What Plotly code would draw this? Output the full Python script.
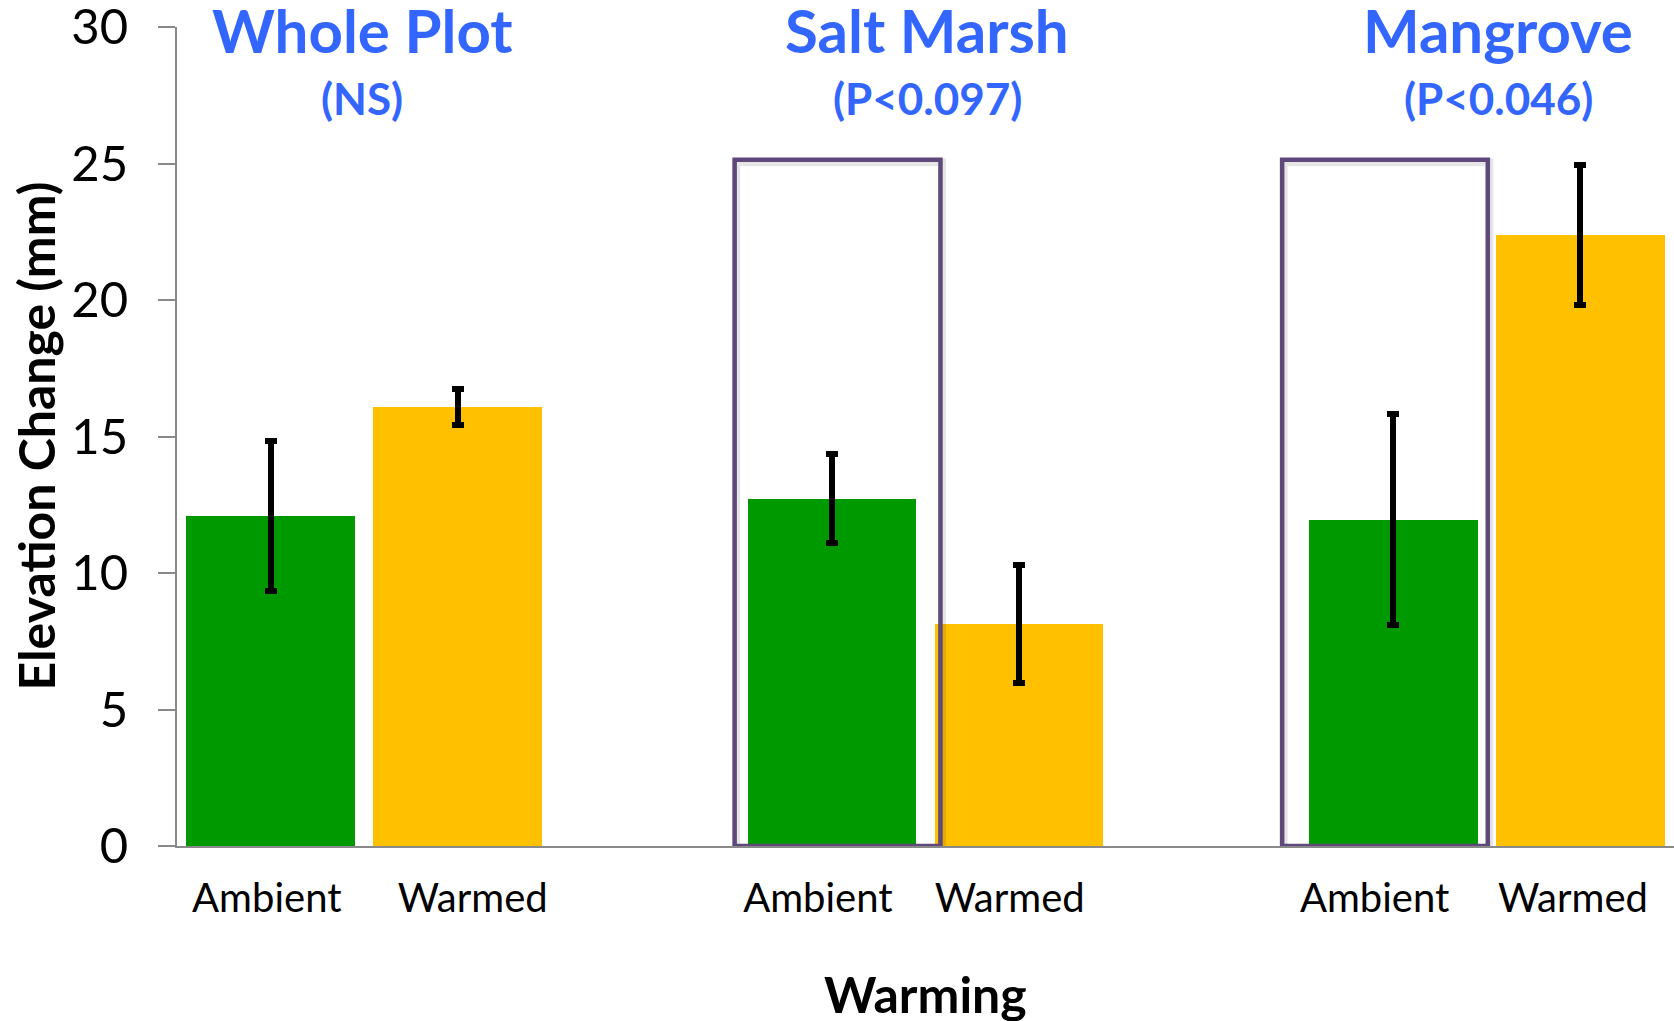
import plotly.graph_objects as go

# Elevation change by plot zone and warming treatment
groups = ["Whole Plot", "Salt Marsh", "Mangrove"]
p_labels = ["(NS)", "(P<0.097)", "(P<0.046)"]
treatments = ["Ambient", "Warmed"]

ambient_mean = [12.08, 12.73, 11.96]
ambient_se = [2.75, 1.62, 3.87]
warmed_mean = [16.09, 8.13, 22.39]
warmed_se = [0.65, 2.17, 2.58]

y_ticks = [0, 5, 10, 15, 20, 25, 30]

# highlighted groups (outlined ambient bars) and the box extents around each bar
boxed_groups = ["Salt Marsh", "Mangrove"]
box_extents = [(-0.52, 0.58), (-0.594, 0.505)]
box_top = 25.15

GREEN = "#009900"
GOLD = "#FFC000"
BLUE = "#3366FF"
PURPLE = "#5F497A"
AXIS_GREY = "#898989"
FONT = "Lato"

# each group takes three slots: ambient, warmed, empty spacer
SLOT = 3
amb_x = [i * SLOT for i in range(len(groups))]
warm_x = [i * SLOT + 1 for i in range(len(groups))]

# category labels sit slightly off the bar centres (text boxes in the original layout)
label_x = []
label_text = []
label_nudge = [(-0.02, 0.08), (-0.075, -0.05), (-0.10, -0.04)]
for a, w, (na, nw) in zip(amb_x, warm_x, label_nudge):
    label_x += [a + na, w + nw]
    label_text += treatments

err_style = dict(type="data", color="black", thickness=6, width=6)

fig = go.Figure()
fig.add_trace(go.Bar(
    x=amb_x, y=ambient_mean, width=0.9, marker=dict(color=GREEN, line=dict(width=0)),
    error_y=dict(array=ambient_se, **err_style), name="Ambient", showlegend=False,
))
fig.add_trace(go.Bar(
    x=warm_x, y=warmed_mean, width=0.9, marker=dict(color=GOLD, line=dict(width=0)),
    error_y=dict(array=warmed_se, **err_style), name="Warmed", showlegend=False,
))

# outline boxes around the ambient bars, with a faint shadow underneath
for g, (lo, hi) in zip(boxed_groups, box_extents):
    cx = amb_x[groups.index(g)]
    fig.add_shape(type="rect", xref="x", yref="y",
                  x0=cx + lo + 0.008, x1=cx + hi + 0.008, y0=-0.1, y1=box_top - 0.1,
                  line=dict(color="rgba(0,0,0,0.10)", width=8), layer="above")
    fig.add_shape(type="rect", xref="x", yref="y",
                  x0=cx + lo, x1=cx + hi, y0=0, y1=box_top,
                  line=dict(color=PURPLE, width=4.5), layer="above")

# group headings and significance labels
title_x = [0.49, 3.51, 6.56]
for tx, name, p in zip(title_x, groups, p_labels):
    fig.add_annotation(x=tx, xref="x", y=0.9967, yref="paper", text=f"<b>{name}</b>",
                       showarrow=False, xanchor="center", yanchor="middle",
                       font=dict(family=FONT, size=60, color=BLUE))
    fig.add_annotation(x=tx, xref="x", y=0.9137, yref="paper", text=f"<b>{p}</b>",
                       showarrow=False, xanchor="center", yanchor="middle",
                       font=dict(family=FONT, size=44, color=BLUE))

# axis titles
fig.add_annotation(x=0, xref="paper", xshift=-142, y=0.5, yref="paper",
                   text="<b>Elevation Change (mm)</b>", textangle=-90, showarrow=False,
                   xanchor="center", yanchor="middle",
                   font=dict(family=FONT, size=50, color="black"))
fig.add_annotation(x=0.5, xref="paper", y=-0.1813, yref="paper",
                   text="<b>Warming</b>", showarrow=False, xanchor="center", yanchor="middle",
                   font=dict(family=FONT, size=50, color="black"))

fig.update_xaxes(
    range=[-0.5, 7.5], tickmode="array",
    tickvals=label_x, ticktext=label_text,
    showline=True, linecolor=AXIS_GREY, linewidth=2, ticks="", showgrid=False,
    zeroline=False, tickfont=dict(family=FONT, size=40, color="black"),
    ticklabelstandoff=16, automargin=False,
)
fig.update_yaxes(
    range=[0, 30.01], tickmode="array", tickvals=y_ticks,
    showline=True, linecolor=AXIS_GREY, linewidth=2, ticks="outside", ticklen=17,
    tickcolor=AXIS_GREY, tickwidth=2, showgrid=False, zeroline=False,
    tickfont=dict(family=FONT, size=49, color="black"), ticklabelstandoff=20,
    ticklabeloverflow="allow", automargin=False,
)
fig.update_layout(
    width=1674, height=1021, autosize=False,
    margin=dict(l=177, r=0, t=27, b=175),
    paper_bgcolor="white", plot_bgcolor="white",
    bargap=0, barmode="overlay", showlegend=False,
)

fig.write_html("out.html")
